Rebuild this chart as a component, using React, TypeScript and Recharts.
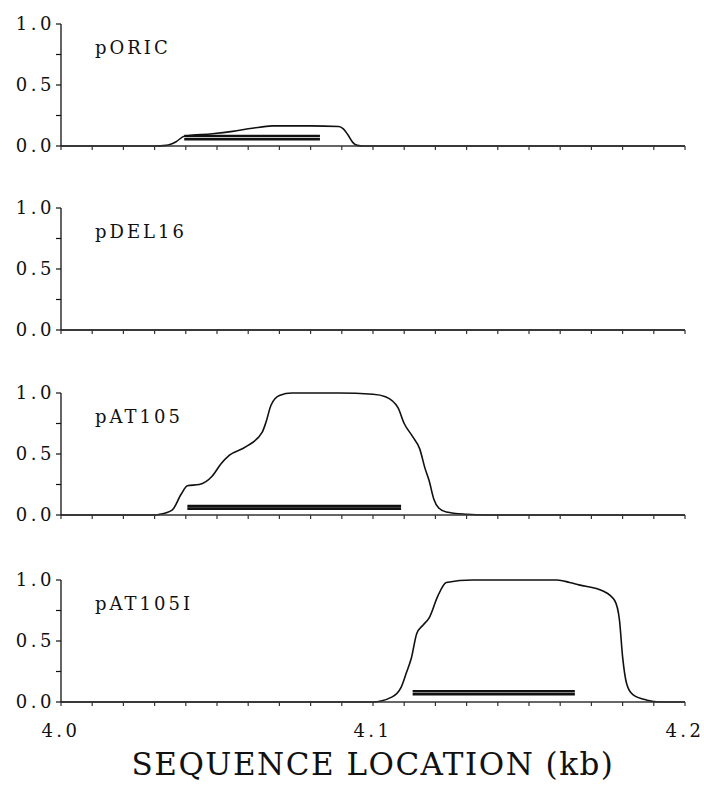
import React from 'react';
import { LineChart, Line, XAxis, YAxis } from 'recharts';

// axis ticks
const X_TICKS = [
  4.0, 4.01, 4.02, 4.03, 4.04, 4.05, 4.06, 4.07, 4.08, 4.09, 4.1,
  4.11, 4.12, 4.13, 4.14, 4.15, 4.16, 4.17, 4.18, 4.19, 4.2,
];
const X_LABELED = [4.0, 4.1, 4.2];
const Y_TICKS = [0, 0.25, 0.5, 0.75, 1.0];
const Y_LABELED = [0, 0.5, 1.0];

// pORIC
const oricKb = [4.0, 4.03, 4.0337, 4.0369, 4.0395, 4.0485, 4.055, 4.0613, 4.0677, 4.08, 4.089, 4.0905, 4.092, 4.0935, 4.095, 4.097, 4.2];
const oricFrac = [0, 0, 0.005, 0.035, 0.08, 0.1, 0.12, 0.145, 0.165, 0.165, 0.16, 0.14, 0.09, 0.03, 0.005, 0, 0];
const oricBar = [4.0395, 4.083];
const oricBarLevels = [0.082, 0.055];

// pDEL16
const del16Kb = [4.0, 4.2];
const del16Frac = [0, 0];

// pAT105
const at105Kb = [4.0, 4.03, 4.0315, 4.0356, 4.0385, 4.0405, 4.0443, 4.0485, 4.0513, 4.054, 4.0593, 4.0645, 4.0657, 4.0673, 4.07, 4.074, 4.089, 4.1, 4.104, 4.108, 4.11, 4.1125, 4.115, 4.1167, 4.118, 4.1195, 4.121, 4.1235, 4.13, 4.136, 4.2];
const at105Frac = [0, 0, 0.005, 0.04, 0.17, 0.24, 0.25, 0.32, 0.42, 0.49, 0.56, 0.68, 0.76, 0.9, 0.98, 1.0, 1.0, 0.99, 0.97, 0.88, 0.75, 0.65, 0.54, 0.38, 0.28, 0.13, 0.06, 0.025, 0.006, 0, 0];
const at105Bar = [4.0405, 4.109];
const at105BarLevels = [0.074, 0.052];

// pAT105I
const at105iKb = [4.0, 4.0998, 4.106, 4.109, 4.1107, 4.1123, 4.114, 4.116, 4.118, 4.1208, 4.1235, 4.132, 4.145, 4.159, 4.163, 4.166, 4.1737, 4.1775, 4.179, 4.18, 4.1813, 4.1833, 4.1878, 4.192, 4.2];
const at105iFrac = [0, 0, 0.04, 0.12, 0.24, 0.36, 0.56, 0.63, 0.69, 0.87, 0.98, 1.0, 1.0, 1.0, 0.98, 0.96, 0.91, 0.83, 0.67, 0.37, 0.15, 0.06, 0.015, 0, 0];
const at105iBar = [4.1127, 4.1647];
const at105iBarLevels = [0.088, 0.064];

const FONT = '"DejaVu Serif", serif';
const INK = '#111';
const PLOT_H = 122;

type PanelProps = {
  top: number;
  name: string;
  kb: number[];
  frac: number[];
  bar?: number[];
  barLevels?: number[];
  bottom?: boolean;
};

const Panel = ({ top, name, kb, frac, bar, barLevels, bottom }: PanelProps) => {
  const curve = kb.map((x, i) => ({ x, y: frac[i] }));
  const bars = bar && barLevels ? barLevels.map((lv) => bar.map((x) => ({ x, y: lv }))) : [];
  const axisH = bottom ? 83 : 12;

  return (
    <div style={{ position: 'absolute', left: 0, top: top - 10 }}>
      <LineChart width={704} height={10 + PLOT_H + axisH} margin={{ top: 10, right: 19, bottom: 0, left: 0 }}>
        <XAxis
          type="number"
          dataKey="x"
          domain={[4.0, 4.2]}
          ticks={X_TICKS}
          allowDataOverflow
          height={axisH}
          axisLine={{ stroke: '#333', strokeWidth: 1.3 }}
          tickLine={{ stroke: '#333', strokeWidth: 1.2 }}
          tickSize={4}
          tickMargin={18}
          tick={{ fill: INK, fontFamily: FONT, fontSize: 18, letterSpacing: 3.5 }}
          tickFormatter={(v: number) => (bottom && X_LABELED.includes(v) ? v.toFixed(1) : '')}
          interval={0}
          label={
            bottom
              ? {
                  value: 'SEQUENCE LOCATION (kb)',
                  position: 'insideBottom',
                  offset: 10,
                  style: { fill: INK, fontFamily: FONT, fontSize: 31, letterSpacing: 1.5 },
                }
              : undefined
          }
        />
        <YAxis
          type="number"
          domain={[0, 1]}
          ticks={Y_TICKS}
          width={61}
          interval={0}
          axisLine={{ stroke: INK, strokeWidth: 1.3 }}
          tickLine={{ stroke: INK, strokeWidth: 1.2 }}
          tickSize={5}
          tickMargin={1}
          tick={{ fill: INK, fontFamily: FONT, fontSize: 18, letterSpacing: 3.5 }}
          tickFormatter={(v: number) => (Y_LABELED.includes(v) ? v.toFixed(1) : '')}
        />
        <Line
          data={curve}
          dataKey="y"
          type="monotone"
          stroke={INK}
          strokeWidth={1.6}
          dot={false}
          activeDot={false}
          isAnimationActive={false}
        />
        {bars.map((d, i) => (
          <Line
            key={i}
            data={d}
            dataKey="y"
            type="linear"
            stroke={INK}
            strokeWidth={2.6}
            dot={false}
            activeDot={false}
            isAnimationActive={false}
          />
        ))}
      </LineChart>
      <div
        style={{
          position: 'absolute',
          left: 95,
          top: 10 + 15,
          fontFamily: FONT,
          fontSize: 18,
          lineHeight: '18px',
          letterSpacing: 3,
          color: INK,
        }}
      >
        {name}
      </div>
    </div>
  );
};

export default function App() {
  return (
    <div style={{ position: 'absolute', left: 0, top: 0, width: 704, height: 785, background: '#fff' }}>
      <Panel top={24} name="pORIC" kb={oricKb} frac={oricFrac} bar={oricBar} barLevels={oricBarLevels} />
      <Panel top={208} name="pDEL16" kb={del16Kb} frac={del16Frac} />
      <Panel top={393} name="pAT105" kb={at105Kb} frac={at105Frac} bar={at105Bar} barLevels={at105BarLevels} />
      <Panel top={580} name="pAT105I" kb={at105iKb} frac={at105iFrac} bar={at105iBar} barLevels={at105iBarLevels} bottom />
    </div>
  );
}
